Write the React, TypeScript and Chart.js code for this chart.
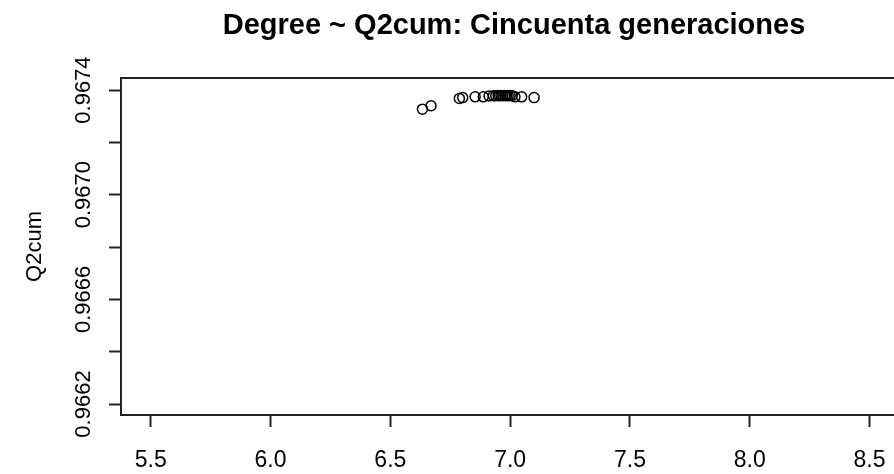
import React, { useEffect, useRef } from "react";
import { Chart, registerables } from "chart.js";

Chart.register(...registerables);

const titleText = "Degree ~ Q2cum: Cincuenta generaciones";
const yAxisTitle = "Q2cum";

const degree = [
  6.634, 6.670, 6.788, 6.802, 6.854, 6.888, 6.912, 6.930, 6.940, 6.950, 6.955,
  6.962, 6.970, 6.978, 6.985, 6.992, 7.000, 7.008, 7.020, 7.048, 7.100,
];
const q2cum = [
  0.967327, 0.96734, 0.967368, 0.967371, 0.967374, 0.967374, 0.967377, 0.967378,
  0.967378, 0.967379, 0.967378, 0.967379, 0.967378, 0.967379, 0.967378, 0.967378,
  0.967379, 0.967378, 0.967374, 0.967374, 0.967371,
];

const xTicks = [5.5, 6.0, 6.5, 7.0, 7.5, 8.0, 8.5];
const yTicks = [0.9662, 0.9664, 0.9666, 0.9668, 0.967, 0.9672, 0.9674];
const yLabelTicks = [0.9662, 0.9666, 0.967, 0.9674];

const FONT = "'Liberation Sans', Arial, sans-serif";

export default function App() {
  const ref = useRef<HTMLCanvasElement | null>(null);

  useEffect(() => {
    if (!ref.current) return;
    const rPlugin = {
      id: "rstyle",
      afterDraw(chart: any) {
        const ctx = chart.ctx;
        const { left, top, right, bottom } = chart.chartArea;
        const ys = chart.scales.y;
        ctx.save();
        ctx.strokeStyle = "#222";
        ctx.lineWidth = 2;
        ctx.beginPath();
        ctx.moveTo(right + 10, top);
        ctx.lineTo(left, top);
        ctx.lineTo(left, bottom);
        ctx.lineTo(right + 10, bottom);
        ctx.stroke();
        ctx.fillStyle = "#000";
        ctx.font = `22px ${FONT}`;
        ctx.textAlign = "center";
        ctx.textBaseline = "middle";
        yLabelTicks.forEach((v) => {
          const py = ys.getPixelForValue(v);
          ctx.save();
          ctx.translate(84, py);
          ctx.rotate(-Math.PI / 2);
          ctx.fillText(v.toFixed(4), 0, 0);
          ctx.restore();
        });
        ctx.font = `bold 29px ${FONT}`;
        ctx.textBaseline = "alphabetic";
        ctx.fillText(titleText, 514, 34);
        ctx.restore();
      },
    };

    const chart = new Chart(ref.current, {
      type: "scatter",
      data: {
        datasets: [
          {
            data: degree.map((d, i) => ({ x: d, y: q2cum[i] })),
            pointStyle: "circle",
            pointRadius: 5,
            pointBorderWidth: 1.5,
            pointBorderColor: "#000",
            pointBackgroundColor: "rgba(0,0,0,0)",
          },
        ],
      },
      options: {
        animation: false,
        responsive: false,
        layout: { autoPadding: false, padding: { top: 78, right: 0, left: 0, bottom: 0 } },
        plugins: { legend: { display: false }, title: { display: false }, tooltip: { enabled: false } },
        scales: {
          x: {
            type: "linear",
            min: 5.376,
            max: 8.602,
            afterFit: (s: any) => {
              s.height = 59;
            },
            afterBuildTicks: (s: any) => {
              s.ticks = xTicks.map((v) => ({ value: v }));
            },
            border: { display: false },
            grid: {
              display: true,
              drawOnChartArea: false,
              drawTicks: true,
              tickLength: 12,
              tickWidth: 2,
              tickColor: "#222",
            },
            ticks: {
              color: "#000",
              font: { family: FONT, size: 23, lineHeight: "59px" },
              padding: 4,
              maxRotation: 0,
              autoSkip: false,
              callback: (v: any) => Number(v).toFixed(1),
            },
          },
          y: {
            type: "linear",
            min: 0.966158,
            max: 0.967446,
            afterFit: (s: any) => {
              s.width = 121;
            },
            afterBuildTicks: (s: any) => {
              s.ticks = yTicks.map((v) => ({ value: v }));
            },
            border: { display: false },
            grid: {
              display: true,
              drawOnChartArea: false,
              drawTicks: true,
              tickLength: 12,
              tickWidth: 2,
              tickColor: "#222",
            },
            ticks: { display: false },
            title: {
              display: true,
              text: yAxisTitle,
              color: "#000",
              font: { family: FONT, size: 22 },
              padding: { top: 22, bottom: 0 },
            },
          },
        },
      },
      plugins: [rPlugin],
    });
    return () => chart.destroy();
  }, []);

  return (
    <div style={{ position: "fixed", left: 0, top: 0, width: 894, height: 474, background: "#fff" }}>
      <canvas ref={ref} width={894} height={474} style={{ display: "block" }} />
    </div>
  );
}
